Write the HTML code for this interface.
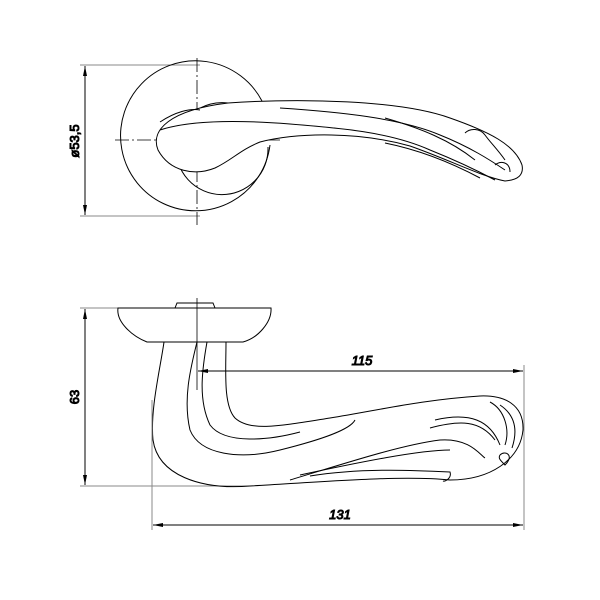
<!DOCTYPE html>
<html><head><style>body{margin:0;background:#fff}svg{display:block}text{font-family:"Liberation Sans",sans-serif;font-style:italic;font-size:13px;fill:#000}</style></head><body>
<svg width="600" height="600" viewBox="0 0 600 600" fill="none" stroke="#000" stroke-width="1">
<defs><marker id="a" viewBox="0 0 10 4" refX="10" refY="2" markerWidth="12" markerHeight="4" orient="auto-start-reverse" markerUnits="userSpaceOnUse"><path d="M0,0L10,2L0,4z" fill="#000" stroke="none"/></marker></defs>
<!-- top view -->
<line x1="80" y1="65" x2="200" y2="65" stroke="#888"/>
<line x1="80" y1="216" x2="200" y2="216" stroke="#888"/>
<line x1="85" y1="66" x2="85" y2="215" marker-start="url(#a)" marker-end="url(#a)"/>
<text transform="translate(79,141) rotate(-90)" text-anchor="middle" style="font-style:normal">ø53,5</text>
<path d="M262,101 A75,75 0 1 0 270,145"/>
<path d="M228,103 A46,46 0 1 0 268,147"/>
<line x1="197" y1="58" x2="197" y2="225" stroke-dasharray="14,3,2,3" stroke-width="0.8"/>
<line x1="115" y1="140" x2="280" y2="140" stroke-dasharray="14,3,2,3" stroke-width="0.8"/>
<path d="M228,103 C300,98 400,100 450,118 C490,132 515,145 522,165 C524,175 518,180 505,181 C480,176 450,160 410,146 C360,132 300,132 260,142 C240,150 232,160 215,168 C195,176 170,172 158,150 C150,130 170,110 228,103 Z" fill="#fff"/>
<path d="M160,130 C190,120 240,120 290,124 C340,128 390,132 430,150 C460,162 480,172 495,180"/>
<path d="M280,108 C340,112 400,118 440,135 C470,147 490,160 505,170"/>
<path d="M385,118 C420,128 450,140 475,160"/>
<path d="M385,143 C420,150 450,162 480,178"/>
<path d="M465,133 C470,128 480,128 485,135 C490,142 498,150 505,160"/>
<path d="M495,165 C500,160 510,162 510,172"/>
<path d="M160,122 C175,112 190,108 200,110"/>
<!-- side view -->
<line x1="80" y1="308" x2="130" y2="308" stroke="#888"/>
<line x1="80" y1="486" x2="250" y2="486" stroke="#888"/>
<line x1="85" y1="309" x2="85" y2="485" marker-start="url(#a)" marker-end="url(#a)"/>
<text transform="translate(79,397) rotate(-90)" text-anchor="middle" style="font-style:normal">63</text>
<path d="M118,308 L271,308 C272,322 258,338 243,342 L147,342 C132,336 116,322 118,308 Z"/>
<path d="M175,308 L177,303 L213,303 L215,308"/>
<path d="M164,342 C160,370 150,410 153,440 C158,475 200,490 250,486 C320,482 400,475 450,480 C490,480 520,460 523,430 C524,405 505,395 480,396 C420,400 380,410 330,418 C280,426 250,432 235,418 C223,405 226,370 226,342"/>
<path d="M197,342 C190,370 183,400 190,430 C200,455 240,460 280,450 C320,440 350,430 355,420"/>
<path d="M207,342 C202,370 198,400 210,425 C225,445 270,440 300,432"/>
<path d="M290,480 C340,465 400,445 440,440 C470,438 480,455 485,458"/>
<path d="M300,475 C360,462 420,450 450,450"/>
<path d="M310,476 C360,468 410,470 450,472 C452,478 445,482 443,481"/>
<path d="M430,428 C460,420 480,420 495,440"/>
<path d="M435,420 C470,412 490,420 500,445"/>
<path d="M490,402 C505,410 510,430 505,445"/>
<path d="M500,405 C515,415 518,430 512,448"/>
<path d="M500,455 C505,450 515,455 505,465 C500,460 498,458 500,455"/>
<line x1="197" y1="298" x2="197" y2="390" stroke-width="0.8"/>
<line x1="152" y1="400" x2="152" y2="530" stroke="#888"/>
<line x1="524" y1="365" x2="524" y2="530" stroke="#888"/>
<line x1="198" y1="371" x2="523" y2="371" marker-start="url(#a)" marker-end="url(#a)"/>
<text x="362" y="365" text-anchor="middle">115</text>
<line x1="153" y1="525" x2="523" y2="525" marker-start="url(#a)" marker-end="url(#a)"/>
<text x="340" y="519" text-anchor="middle">131</text>
</svg>
</body></html>
